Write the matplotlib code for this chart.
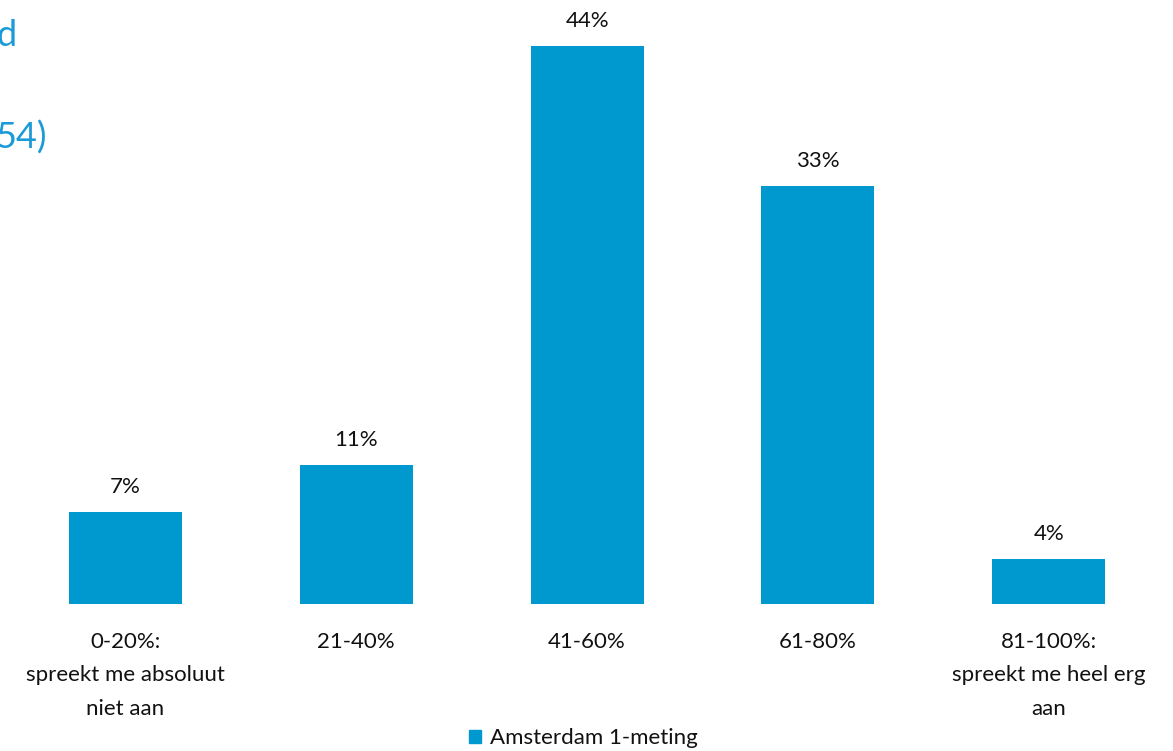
import matplotlib
matplotlib.use('Agg')
import matplotlib.pyplot as plt
from matplotlib.patches import Patch

categories = ['0-20%:\nspreekt me absoluut\nniet aan', '21-40%', '41-60%', '61-80%',
              '81-100%:\nspreekt me heel erg\naan']
# bar heights (labels are rounded)
values = [7.25, 11.0, 44.0, 33.0, 3.55]
value_labels = ['7%', '11%', '44%', '33%', '4%']
series_name = 'Amsterdam 1-meting'
bar_color = '#0099CF'
title_color = '#1A9BD7'

plt.rcParams['font.family'] = ['Lato', 'DejaVu Sans']

fig = plt.figure(figsize=(11.73, 7.51), dpi=100)
ax = fig.add_axes([0.0085, 0.1957, 0.984, 0.743])

x = list(range(len(values)))
bars = ax.bar(x, values, width=0.49, color=bar_color)
ax.set_xlim(-0.5, len(values) - 0.5)
ax.set_ylim(0, 44)

# percentage labels above the bars
for b, v, lab in zip(bars, values, value_labels):
    ax.annotate(lab, (b.get_x() + b.get_width() / 2, v), xytext=(0, 18),
                textcoords='offset points', ha='center', va='center',
                fontsize=16, color='#111111', annotation_clip=False)

ax.set_xticks(x)
ax.set_xticklabels(categories, fontsize=16, color='#111111', linespacing=1.85, va='top')
ax.tick_params(axis='x', length=0, pad=20)
ax.set_yticks([])
for s in ax.spines.values():
    s.set_visible(False)

handles = [Patch(color=bar_color)]
fig.legend(handles=handles, labels=[series_name], loc='center', bbox_to_anchor=(0.497, 0.017),
           frameon=False, fontsize=16, handlelength=0.55, handleheight=0.55, handletextpad=0.4,
           labelcolor='#111111')

# cut-off title at the left edge (as in the original slide)
fig.text(17 / 1173, 1 - 35 / 751, 'd', ha='right', va='center', fontsize=26, color=title_color)
fig.text(47 / 1173, 1 - 138 / 751, '54)', ha='right', va='center', fontsize=26, color=title_color)

fig.savefig('out.png', dpi=100)
